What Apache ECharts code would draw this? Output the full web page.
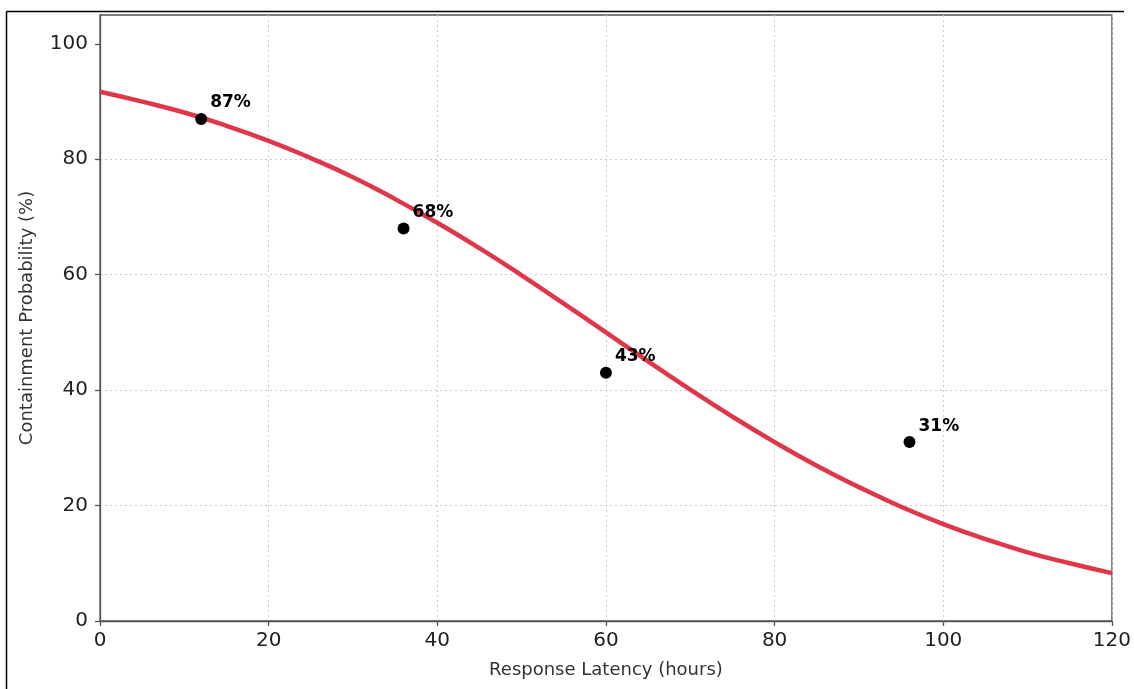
<!DOCTYPE html>
<html>
<head>
<meta charset="utf-8">
<script src="https://cdn.jsdelivr.net/npm/echarts@6/dist/echarts.min.js"></script>
<style>html,body{margin:0;padding:0;background:#fff}#c{width:1134px;height:689px}</style>
</head>
<body>
<div id="c"></div>
<script>
// Fitted curve values
const curveX = [0,5,10,15,20,25,30,35,40,45,50,55,60,65,70,75,80,85,90,95,100,105,110,115,120];
const curveY = [91.7,90.0,88.1,85.8,83.2,80.2,76.9,73.1,69.0,64.6,59.9,55.0,50.0,45.0,40.1,35.4,31.0,26.9,23.2,19.8,16.8,14.2,11.9,10.0,8.3];
// Observed points
const obsX = [12,36,60,96];
const obsY = [87,68,43,31];
const xTicks = [0,20,40,60,80,100,120];
const yTicks = [0,20,40,60,80,100];

const chart = echarts.init(document.getElementById('c'), null, {renderer:'canvas'});
const font = 'DejaVu Sans';
chart.setOption({
  animation:false,
  backgroundColor:'#fff',
  graphic:[
    {type:'line',shape:{x1:6.5,y1:11.5,x2:1124,y2:11.5},style:{stroke:'#000',lineWidth:1.5},silent:true,z:100},
    {type:'line',shape:{x1:6.5,y1:11.5,x2:6.5,y2:700},style:{stroke:'#000',lineWidth:1.5},silent:true,z:100}
  ],
  grid:{left:100,right:19,top:15,bottom:68,show:true,borderColor:'#555',borderWidth:1.3,backgroundColor:'transparent'},
  xAxis:{type:'value',min:0,max:120,interval:20,
    name:'Response Latency (hours)',nameLocation:'middle',nameGap:40,
    nameTextStyle:{fontFamily:font,fontSize:18,color:'#333'},
    axisLine:{show:true,onZero:false,lineStyle:{color:'#555',width:1.3}},
    axisTick:{show:true,length:5,lineStyle:{color:'#555',width:1.3}},
    axisLabel:{fontFamily:font,fontSize:20,color:'#222',margin:10},
    splitLine:{show:true,lineStyle:{type:[2,3],color:'#cccccc',width:1}}
  },
  yAxis:{type:'value',min:0,max:105,interval:20,
    name:'Containment Probability (%)',nameLocation:'middle',nameGap:64,
    nameTextStyle:{fontFamily:font,fontSize:18,color:'#333'},
    axisLine:{show:true,onZero:false,lineStyle:{color:'#555',width:1.3}},
    axisTick:{show:true,length:5,customValues:yTicks,lineStyle:{color:'#555',width:1.3}},
    axisLabel:{fontFamily:font,fontSize:20,color:'#222',margin:12,customValues:yTicks},
    splitLine:{show:true,showMaxLine:false,lineStyle:{type:[2,3],color:'#cccccc',width:1}}
  },
  series:[
    {type:'line',data:curveX.map((x,i)=>[x,curveY[i]]),smooth:true,showSymbol:false,
      lineStyle:{color:'#e0364a',width:4.5},z:2},
    {type:'scatter',data:obsX.map((x,i)=>[x,obsY[i]]),symbolSize:12,
      itemStyle:{color:'#000',opacity:1},z:3,
      label:{show:true,position:[15,-10],align:'left',verticalAlign:'middle',
        formatter:p=>p.value[1]+'%',fontFamily:font,fontSize:17,fontWeight:'bold',color:'#000',opacity:1}}
  ]
});
</script>
</body>
</html>
